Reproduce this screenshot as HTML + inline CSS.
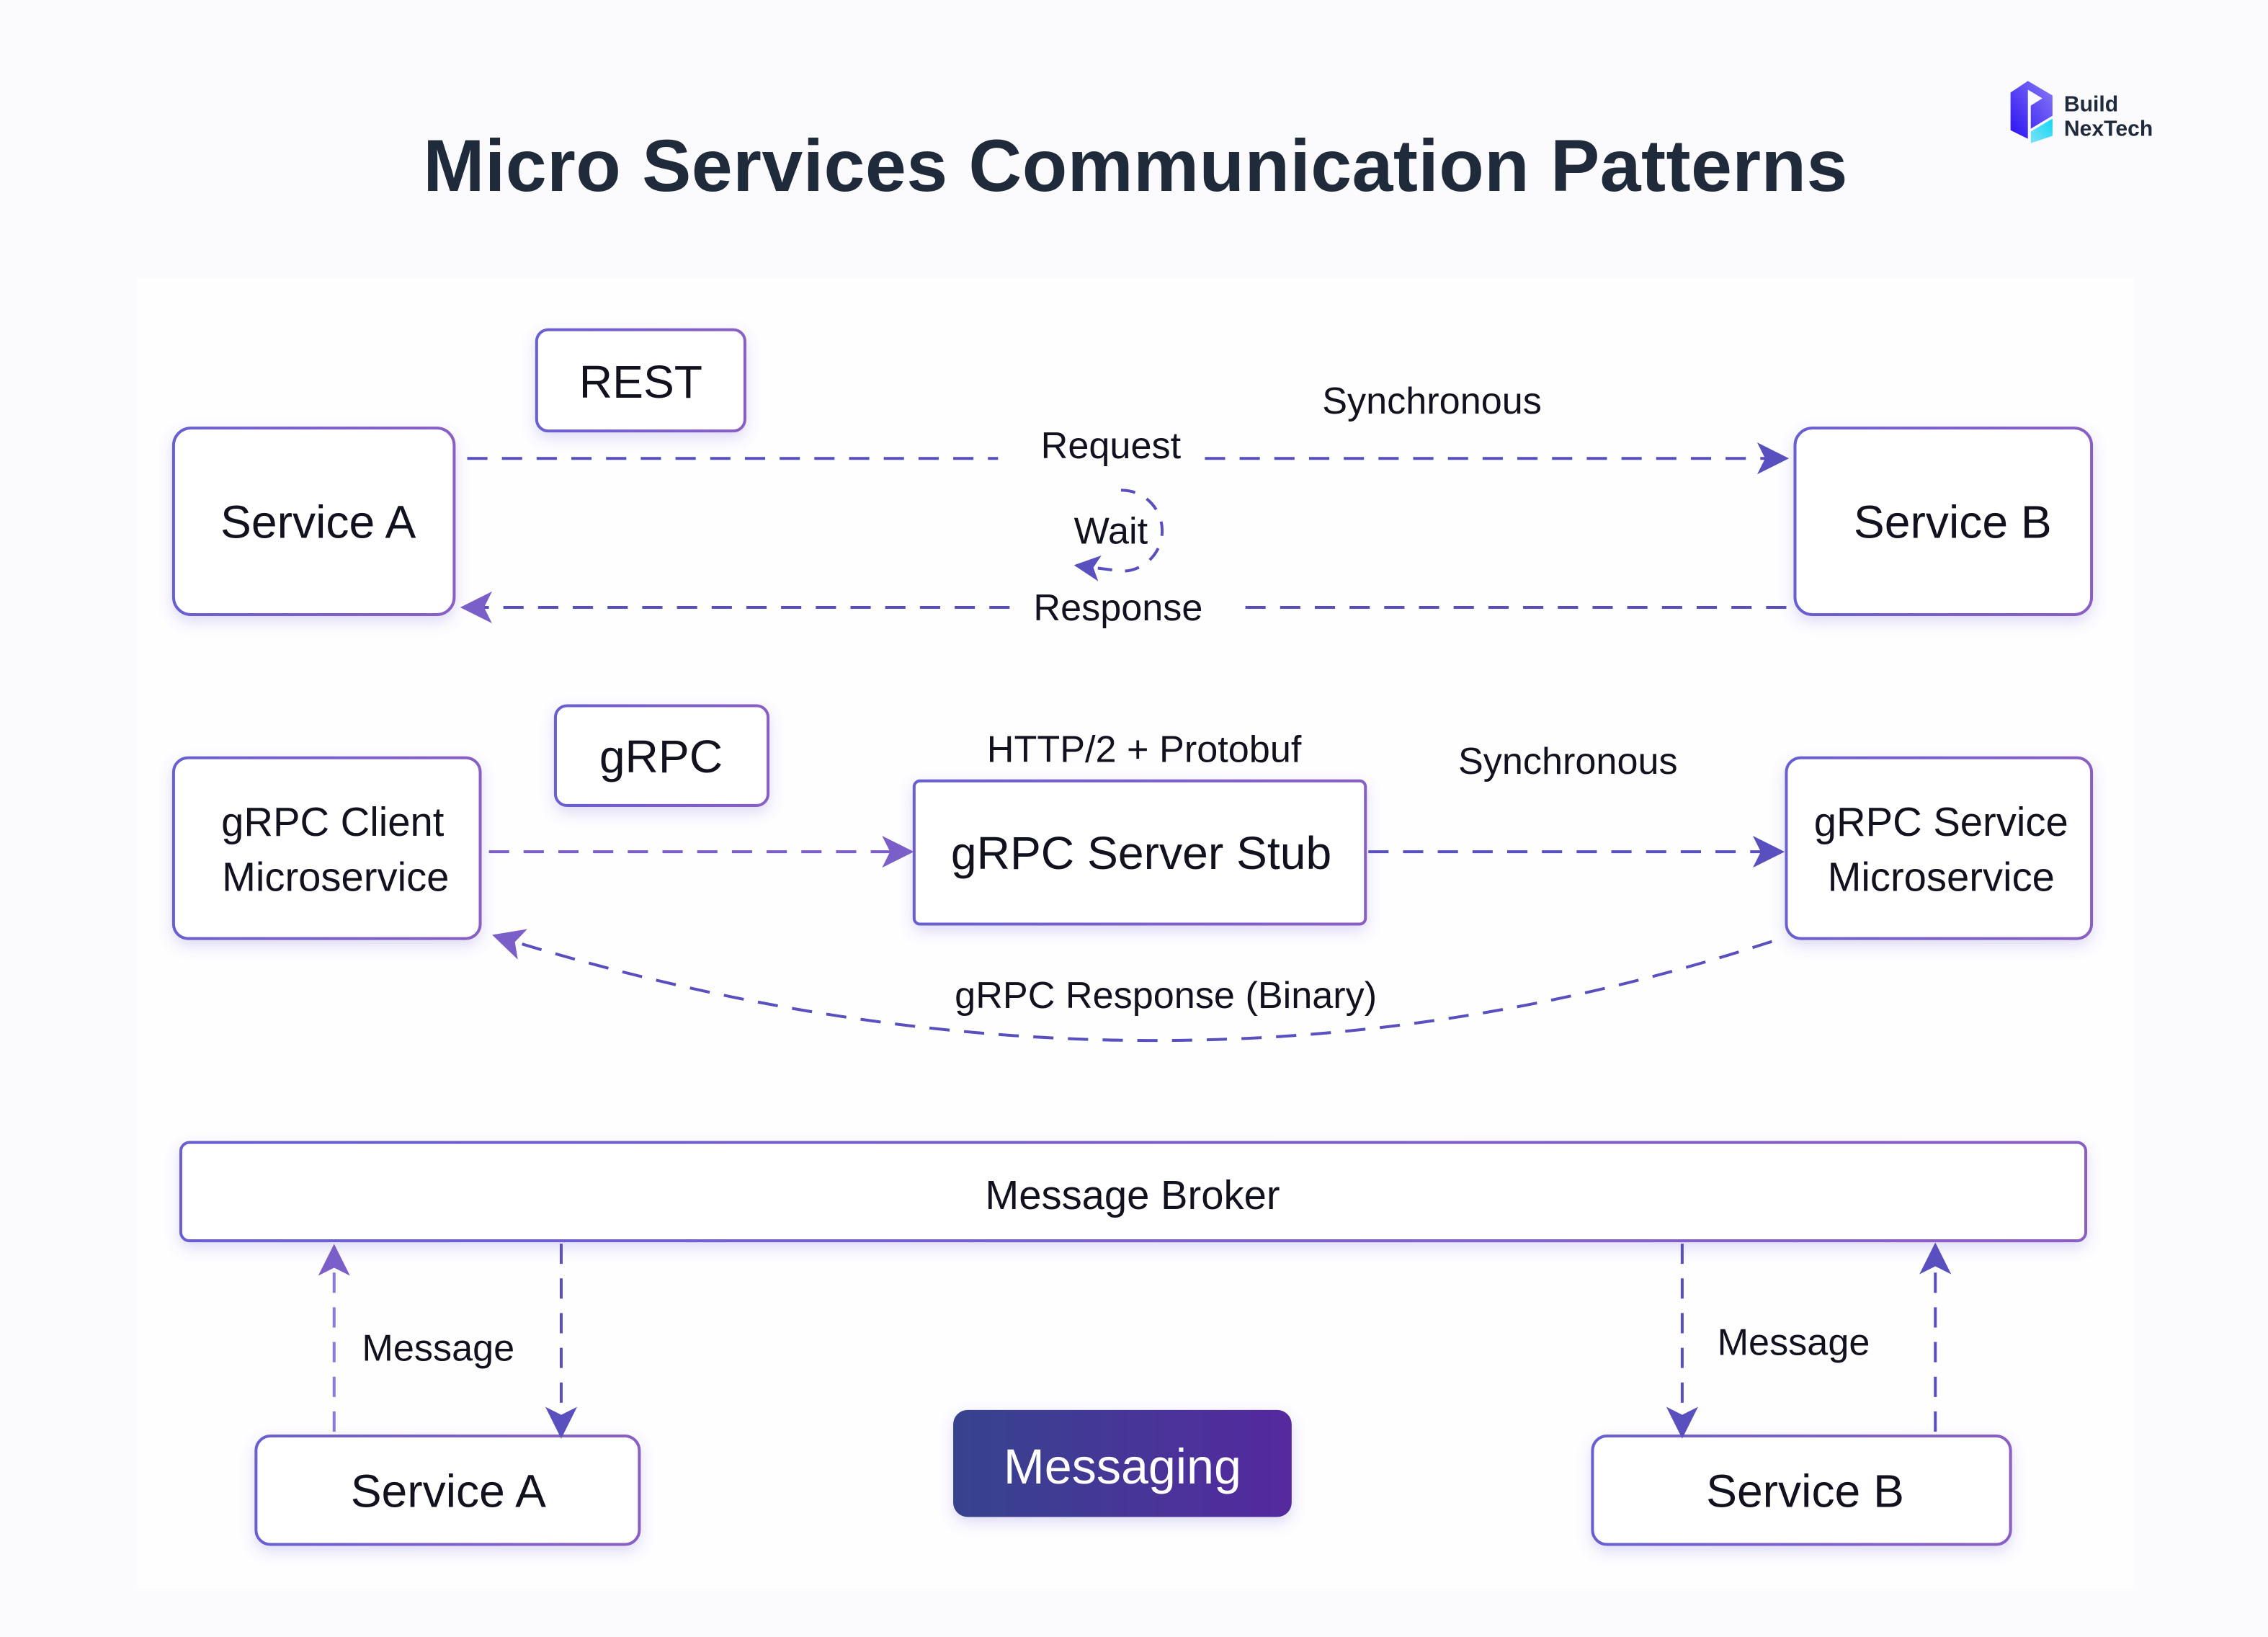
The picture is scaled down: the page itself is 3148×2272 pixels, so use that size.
<!DOCTYPE html>
<html><head><meta charset="utf-8"><style>
html,body{margin:0;padding:0;background:#fbfafd;}
svg{display:block;}
text{font-family:"Liberation Sans","DejaVu Sans",sans-serif;fill:#12121f;}
</style></head><body>
<svg width="3148" height="2272" viewBox="0 0 1568 1132" preserveAspectRatio="none" xmlns="http://www.w3.org/2000/svg">
<defs>
<filter id="sh" x="-20%" y="-20%" width="140%" height="150%"><feDropShadow dx="0" dy="4" stdDeviation="5" flood-color="#6a5fd0" flood-opacity="0.22"/></filter>
<linearGradient id="bd" x1="0" y1="0" x2="1" y2="0"><stop offset="0" stop-color="#6a5fd0"/><stop offset="1" stop-color="#8a5fc4"/></linearGradient>
<linearGradient id="mg" x1="0" y1="0" x2="1" y2="0"><stop offset="0" stop-color="#36438e"/><stop offset="1" stop-color="#55299f"/></linearGradient>
<linearGradient id="lg1" x1="0" y1="1" x2="1" y2="0"><stop offset="0" stop-color="#2a10f0"/><stop offset="1" stop-color="#8a7cf8"/></linearGradient>
<linearGradient id="lg2" x1="0" y1="1" x2="1" y2="0"><stop offset="0" stop-color="#7ee0f8"/><stop offset="1" stop-color="#10d8f4"/></linearGradient>
<marker id="ah" viewBox="0 0 12 12" refX="11" refY="6" markerWidth="22" markerHeight="22" markerUnits="userSpaceOnUse" orient="auto"><path d="M0,0 L12,6 L0,12 L3,6 Z" fill="#5a4fbe" stroke="none"/></marker>
<marker id="ah2" viewBox="0 0 12 12" refX="11" refY="6" markerWidth="22" markerHeight="22" markerUnits="userSpaceOnUse" orient="auto"><path d="M0,0 L12,6 L0,12 L3,6 Z" fill="#7a5fc8" stroke="none"/></marker>
<marker id="ah3" viewBox="0 0 12 12" refX="11" refY="6" markerWidth="18" markerHeight="18" markerUnits="userSpaceOnUse" orient="auto"><path d="M0,0 L12,6 L0,12 L3,6 Z" fill="#5a4fbe" stroke="none"/></marker>
</defs>
<rect x="95" y="192" width="1380" height="906" fill="#fefeff"/>
<text x="785" y="132" font-size="51" font-weight="bold" text-anchor="middle" style="fill:#1f2a3a;letter-spacing:0.2px">Micro Services Communication Patterns</text>
<path d="M1390,64 L1402,56 L1419,66 L1419,80 L1404,89 L1404,73 L1412,68 L1402,62 L1402,96 L1390,90 Z" fill="url(#lg1)"/>
<path d="M1404,91 L1419,82 L1419,94 L1404,99 Z" fill="url(#lg2)"/>
<text x="1427" y="77" font-size="15" font-weight="bold" style="fill:#1f2a3a">Build</text>
<text x="1427" y="94" font-size="15" font-weight="bold" style="fill:#1f2a3a">NexTech</text>
<g fill="#fff" stroke="url(#bd)" stroke-width="2" filter="url(#sh)">
<rect x="371" y="228" width="144" height="70" rx="8"/>
<rect x="120" y="296" width="194" height="129" rx="12"/>
<rect x="1241" y="296" width="205" height="129" rx="12"/>
<rect x="384" y="488" width="147" height="69" rx="8"/>
<rect x="120" y="524" width="212" height="125" rx="10"/>
<rect x="632" y="540" width="312" height="99" rx="4"/>
<rect x="1235" y="524" width="211" height="125" rx="10"/>
<rect x="125" y="790" width="1317" height="68" rx="6"/>
<rect x="177" y="993" width="265" height="75" rx="10"/>
<rect x="1101" y="993" width="289" height="75" rx="10"/>
</g>
<rect x="659" y="975" width="234" height="74" rx="10" fill="url(#mg)" filter="url(#sh)"/>
<g font-size="32" text-anchor="middle">
<text x="220" y="372">Service A</text>
<text x="1350" y="372">Service B</text>
<text x="443" y="275">REST</text>
<text x="457" y="534">gRPC</text>
<text x="789" y="601">gRPC Server Stub</text>
<text x="310" y="1042">Service A</text>
<text x="1248" y="1042">Service B</text>
</g>
<g font-size="28" text-anchor="middle">
<text x="230" y="578">gRPC Client</text>
<text x="232" y="616">Microservice</text>
<text x="1342" y="578">gRPC Service</text>
<text x="1342" y="616">Microservice</text>
<text x="783" y="836">Message Broker</text>
</g>
<text x="776" y="1026" font-size="34" text-anchor="middle" style="fill:#fff">Messaging</text>
<g font-size="26" text-anchor="middle">
<text x="990" y="286">Synchronous</text>
<text x="768" y="317">Request</text>
<text x="768" y="376">Wait</text>
<text x="773" y="429">Response</text>
<text x="791" y="527">HTTP/2 + Protobuf</text>
<text x="1084" y="535">Synchronous</text>
<text x="806" y="697">gRPC Response (Binary)</text>
<text x="303" y="941">Message</text>
<text x="1240" y="937">Message</text>
</g>
<g fill="none" stroke="#5a4fbe" stroke-width="2" stroke-dasharray="14,10">
<path d="M323,317 L690,317"/>
<path d="M833,317 L1235,317" marker-end="url(#ah)"/>
<path d="M1235,420 L852,420"/>
<path d="M698,420 L320,420" marker-end="url(#ah2)"/>
<path d="M775,339 A27,27 0 0 1 776,395 L744,391" stroke-dasharray="10,9" marker-end="url(#ah3)"/>
<path d="M338,589 L630,589" marker-end="url(#ah2)" stroke="#7a5fc8"/>
<path d="M946,589 L1232,589" marker-end="url(#ah)"/>
<path d="M1225,651 Q800,790 342,647" marker-end="url(#ah2)"/>
<path d="M231,990 L231,862" marker-end="url(#ah2)" stroke="#8a7ad8"/>
<path d="M388,860 L388,993" marker-end="url(#ah)"/>
<path d="M1163,860 L1163,993" marker-end="url(#ah)"/>
<path d="M1338,990 L1338,861" marker-end="url(#ah)"/>
</g>
</svg>
</body></html>
